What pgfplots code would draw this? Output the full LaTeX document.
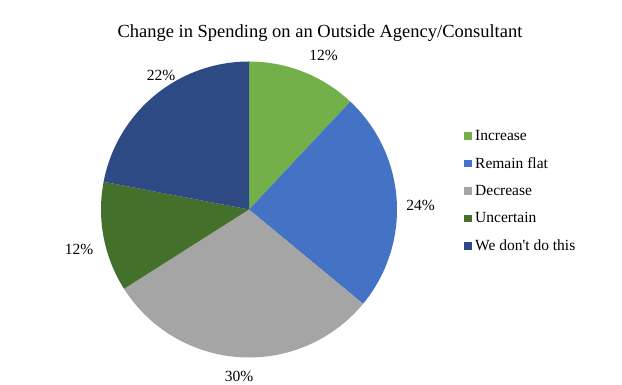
\documentclass[border=0pt]{standalone}
\usepackage{fontspec}
\setmainfont{Liberation Serif}
\usepackage{pgfplots}
\pgfplotsset{compat=1.18}
\definecolor{cInc}{HTML}{74B04A}
\definecolor{cFlat}{HTML}{4472C4}
\definecolor{cDec}{HTML}{A5A5A5}
\definecolor{cUnc}{HTML}{45702B}
\definecolor{cNo}{HTML}{2E4A85}
% shares in percent
\def\vInc{12}\def\vFlat{24}\def\vDec{30}\def\vUnc{12}\def\vNo{22}
\pgfmathsetmacro\aA{90}
\pgfmathsetmacro\aB{\aA-3.6*\vInc}
\pgfmathsetmacro\aC{\aB-3.6*\vFlat}
\pgfmathsetmacro\aD{\aC-3.6*\vDec}
\pgfmathsetmacro\aE{\aD-3.6*\vUnc}
\pgfmathsetmacro\aF{\aE-3.6*\vNo}
\def\cx{249}\def\cy{174.5}\def\rr{148}
\begin{document}
\begin{tikzpicture}
\begin{axis}[
  width=622pt, height=384pt, scale only axis,
  xmin=0, xmax=622, ymin=0, ymax=384,
  hide axis, clip=false,
  legend cell align=left,
  legend style={draw=none, fill=none, font=\fontsize{15.5}{18}\selectfont,
    at={(axis cs:461,258)}, anchor=north west, row sep=11.6pt,
    /tikz/every odd column/.append style={column sep=1pt}},
  legend image code/.code={\fill[#1] (0pt,-3.5pt) rectangle (8pt,4pt);},
]
\path (axis cs:0,0) rectangle (axis cs:622,384);
\addplot[fill=cInc, draw=none, domain=\aB:\aA, samples=80, smooth] ({\cx+\rr*cos(x)},{\cy+\rr*sin(x)}) -- (axis cs:\cx,\cy) -- cycle;
\addlegendentry{Increase}
\addplot[fill=cFlat, draw=none, domain=\aC:\aB, samples=80, smooth] ({\cx+\rr*cos(x)},{\cy+\rr*sin(x)}) -- (axis cs:\cx,\cy) -- cycle;
\addlegendentry{Remain flat}
\addplot[fill=cDec, draw=none, domain=\aD:\aC, samples=80, smooth] ({\cx+\rr*cos(x)},{\cy+\rr*sin(x)}) -- (axis cs:\cx,\cy) -- cycle;
\addlegendentry{Decrease}
\addplot[fill=cUnc, draw=none, domain=\aE:\aD, samples=80, smooth] ({\cx+\rr*cos(x)},{\cy+\rr*sin(x)}) -- (axis cs:\cx,\cy) -- cycle;
\addlegendentry{Uncertain}
\addplot[fill=cNo, draw=none, domain=\aF:\aE, samples=80, smooth] ({\cx+\rr*cos(x)},{\cy+\rr*sin(x)}) -- (axis cs:\cx,\cy) -- cycle;
\addlegendentry{We don\textquotesingle t do this}
\node[font=\fontsize{18.5}{22}\selectfont] at (axis cs:320,351) {Change in Spending on an Outside Agency/Consultant};
\node[font=\fontsize{15.5}{18}\selectfont] at (axis cs:323.5,328.5) {12\%};
\node[font=\fontsize{15.5}{18}\selectfont] at (axis cs:420.5,179) {24\%};
\node[font=\fontsize{15.5}{18}\selectfont] at (axis cs:239,8) {30\%};
\node[font=\fontsize{15.5}{18}\selectfont] at (axis cs:79,135) {12\%};
\node[font=\fontsize{15.5}{18}\selectfont] at (axis cs:161,309) {22\%};
\end{axis}
\end{tikzpicture}
\end{document}
